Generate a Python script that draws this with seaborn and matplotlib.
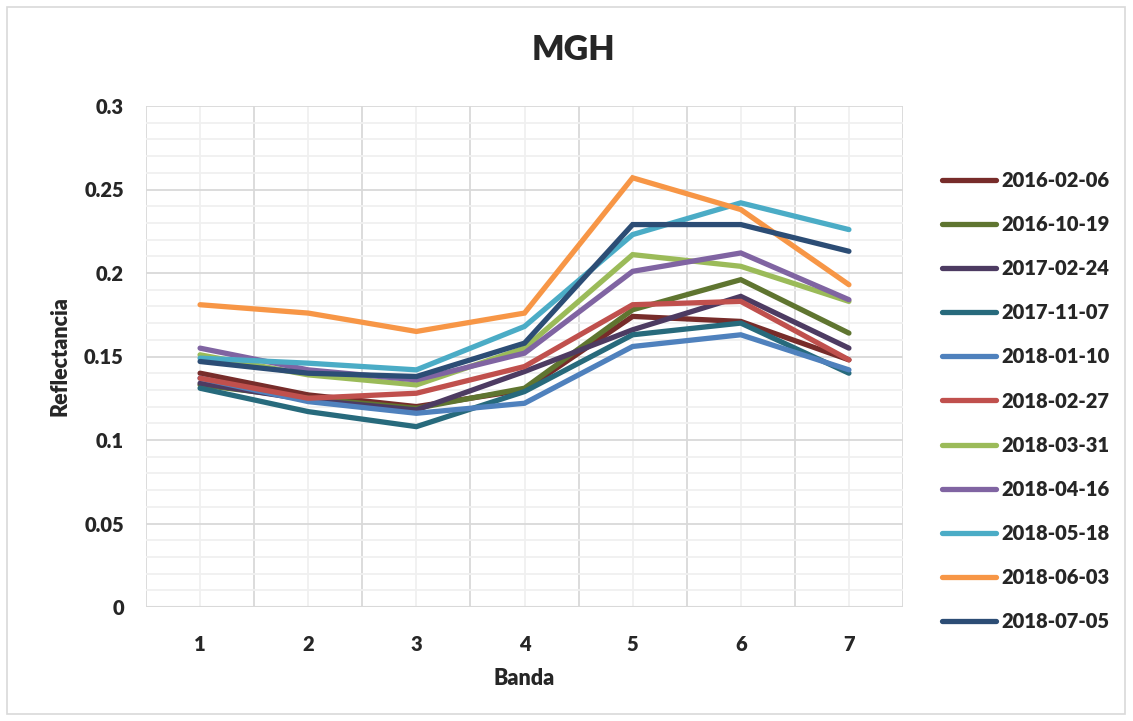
import pandas as pd
import numpy as np
import matplotlib
matplotlib.use("Agg")
import matplotlib.pyplot as plt
from matplotlib.ticker import MultipleLocator, FixedLocator, FuncFormatter
import seaborn as sns

bands = [1, 2, 3, 4, 5, 6, 7]

# reflectance per acquisition date
r_2016_02_06 = [0.140, 0.127, 0.120, 0.130, 0.174, 0.171, 0.148]
r_2016_10_19 = [0.133, 0.125, 0.119, 0.131, 0.178, 0.196, 0.164]
r_2017_02_24 = [0.134, 0.124, 0.118, 0.141, 0.166, 0.186, 0.155]
r_2017_11_07 = [0.131, 0.117, 0.108, 0.129, 0.163, 0.170, 0.140]
r_2018_01_10 = [0.137, 0.123, 0.116, 0.122, 0.156, 0.163, 0.142]
r_2018_02_27 = [0.137, 0.125, 0.128, 0.144, 0.181, 0.183, 0.148]
r_2018_03_31 = [0.151, 0.139, 0.133, 0.155, 0.211, 0.204, 0.183]
r_2018_04_16 = [0.155, 0.142, 0.136, 0.152, 0.201, 0.212, 0.184]
r_2018_05_18 = [0.149, 0.146, 0.142, 0.168, 0.223, 0.242, 0.226]
r_2018_06_03 = [0.181, 0.176, 0.165, 0.176, 0.257, 0.238, 0.193]
r_2018_07_05 = [0.147, 0.140, 0.138, 0.158, 0.229, 0.229, 0.213]

dates = ["2016-02-06", "2016-10-19", "2017-02-24", "2017-11-07", "2018-01-10",
         "2018-02-27", "2018-03-31", "2018-04-16", "2018-05-18", "2018-06-03",
         "2018-07-05"]
series = [r_2016_02_06, r_2016_10_19, r_2017_02_24, r_2017_11_07, r_2018_01_10,
          r_2018_02_27, r_2018_03_31, r_2018_04_16, r_2018_05_18, r_2018_06_03,
          r_2018_07_05]
colors = ["#772C2A", "#5F7530", "#4D3B62", "#276A7C", "#4F81BD", "#C0504D",
          "#9BBB59", "#8064A2", "#4BACC6", "#F79646", "#2C4D75"]

rows = []
for d, vals in zip(dates, series):
    for b, v in zip(bands, vals):
        rows.append({"Banda": b, "Reflectancia": v, "Fecha": d})
df = pd.DataFrame(rows)

sns.set_style("white")
plt.rcParams["font.family"] = ["Lato", "DejaVu Sans"]
plt.rcParams["font.weight"] = "heavy"

fig = plt.figure(figsize=(11.33, 7.21), dpi=100)
ax = fig.add_axes([146 / 1133, 1 - 607 / 721, (903 - 146) / 1133, (607 - 106) / 721])

sns.lineplot(data=df, x="Banda", y="Reflectancia", hue="Fecha", hue_order=dates,
             palette=dict(zip(dates, colors)), linewidth=3.8, ax=ax,
             solid_capstyle="round", solid_joinstyle="miter", legend=True)

ax.set_xlim(0.5, 7.5)
ax.set_ylim(0, 0.3)
ax.xaxis.set_major_locator(FixedLocator(bands))
ax.yaxis.set_major_locator(MultipleLocator(0.05))
ax.yaxis.set_major_formatter(FuncFormatter(lambda v, p: f"{round(v, 2):g}"))

# excel-like gridlines: category boundaries darker, centres lighter
ax.grid(False)
for xv in np.arange(0.5, 8, 1):
    ax.axvline(xv, color="#D9D9D9", lw=1.3, zorder=0)
for xv in bands:
    ax.axvline(xv, color="#F0F0F0", lw=1.3, zorder=0)
for i in range(31):
    ax.axhline(i * 0.01, color="#D9D9D9" if i % 5 == 0 else "#F0F0F0", lw=1.3, zorder=0)

for s in ax.spines.values():
    s.set_visible(False)
ax.axhline(0, color="#D9D9D9", lw=1.5, zorder=1)

ax.tick_params(axis="both", which="both", length=0, labelsize=14.5)
ax.tick_params(axis="y", pad=16)
ax.tick_params(axis="x", pad=20)
ax.set_xlabel("Banda", fontsize=15.5, fontweight="heavy", labelpad=10)
ax.set_ylabel("Reflectancia", fontsize=15.5, fontweight="heavy", labelpad=10)

fig.text(573 / 1133, 1 - 50 / 721, "MGH", ha="center", va="center",
         fontsize=24.5, fontweight="heavy")

handles, labels = ax.get_legend_handles_labels()
ax.legend_.remove()
leg = fig.legend(handles, labels, loc="center left",
                 bbox_to_anchor=(942 / 1133, 1 - 401 / 721), frameon=False,
                 fontsize=14.5, handlelength=2.7, handletextpad=0.25,
                 labelspacing=1.25, borderpad=0, borderaxespad=0)
for t in leg.get_texts():
    t.set_fontweight("heavy")
for h in leg.get_lines():
    h.set_linewidth(3.8)

fig.patches.append(plt.Rectangle((7 / 1133, 1 - 714 / 721), 1118 / 1133, 707 / 721,
                                 transform=fig.transFigure, fill=False,
                                 edgecolor="#D9D9D9", lw=1.2))

fig.savefig("out.png", dpi=100)
